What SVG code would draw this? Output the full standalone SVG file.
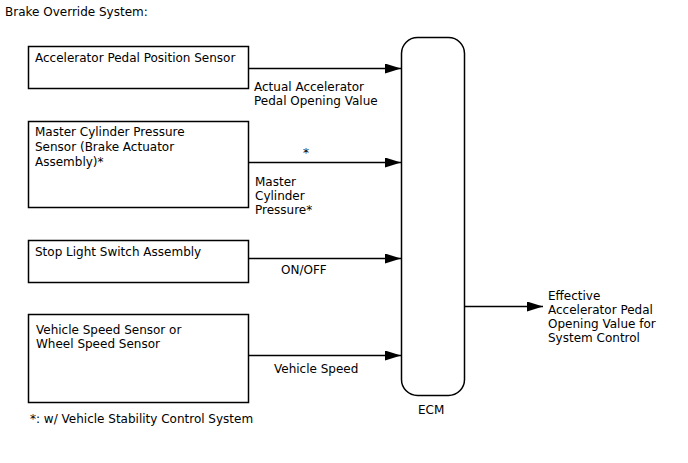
<svg xmlns="http://www.w3.org/2000/svg" width="688" height="463" viewBox="0 0 688 463">
<defs>
<style>
text{font-family:"DejaVu Sans",sans-serif;font-size:12px;fill:#000}
.box{fill:#fff;stroke:#000;stroke-width:1.5}
.ln{stroke:#000;stroke-width:1.5;fill:none}
</style>
<marker id="ah" markerWidth="16" markerHeight="10" refX="16" refY="5" orient="auto" markerUnits="userSpaceOnUse">
<path d="M0,0 L16,5 L0,10 Z" fill="#000"/>
</marker>
</defs>
<rect width="688" height="463" fill="#fff"/>
<text x="5" y="16">Brake Override System:</text>
<g id="n1"><rect class="box" x="28.5" y="46.5" width="220" height="42"/><text x="35" y="62">Accelerator Pedal Position Sensor</text></g>
<g id="n2"><rect class="box" x="28.5" y="121.5" width="220" height="86"/><text x="35" y="136">Master Cylinder Pressure</text><text x="35" y="151">Sensor (Brake Actuator</text><text x="35" y="166">Assembly)*</text></g>
<g id="n3"><rect class="box" x="28.5" y="240.5" width="220" height="42"/><text x="35" y="256">Stop Light Switch Assembly</text></g>
<g id="n4"><rect class="box" x="28.5" y="314.5" width="220" height="88"/><text x="36" y="334">Vehicle Speed Sensor or</text><text x="36" y="348">Wheel Speed Sensor</text></g>
<g id="ecm"><rect class="box" x="401.5" y="37.5" width="63" height="358" rx="16"/><text x="418" y="414">ECM</text></g>
<g id="connectors">
<line class="ln" x1="249" y1="68.5" x2="401" y2="68.5" marker-end="url(#ah)"/>
<line class="ln" x1="249" y1="162.5" x2="401" y2="162.5" marker-end="url(#ah)"/>
<line class="ln" x1="249" y1="258.5" x2="401" y2="258.5" marker-end="url(#ah)"/>
<line class="ln" x1="249" y1="355.5" x2="401" y2="355.5" marker-end="url(#ah)"/>
<line class="ln" x1="465" y1="306.5" x2="543" y2="306.5" marker-end="url(#ah)"/>
</g>
<text x="254" y="91">Actual Accelerator</text>
<text x="254" y="105">Pedal Opening Value</text>
<text x="303" y="157">*</text>
<text x="255" y="186">Master</text>
<text x="255" y="200">Cylinder</text>
<text x="255" y="214">Pressure*</text>
<text x="281" y="274">ON/OFF</text>
<text x="274" y="373">Vehicle Speed</text>
<text x="548" y="300">Effective</text>
<text x="548" y="314">Accelerator Pedal</text>
<text x="548" y="328">Opening Value for</text>
<text x="548" y="342">System Control</text>
<text x="30" y="423">*: w/ Vehicle Stability Control System</text>
</svg>
